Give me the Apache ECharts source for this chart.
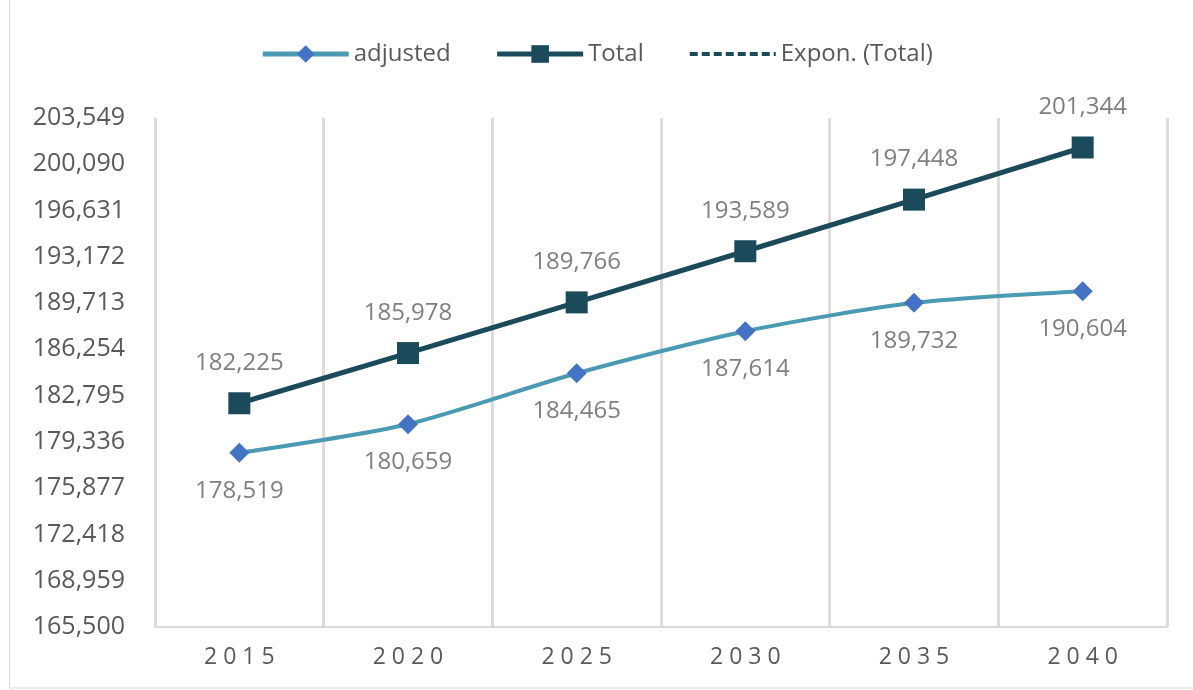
<!DOCTYPE html>
<html>
<head>
<meta charset="utf-8">
<script src="https://cdn.jsdelivr.net/npm/echarts@6/dist/echarts.min.js"></script>
<style>
html,body{margin:0;padding:0;background:#fff;}
#chart{width:1193px;height:690px;}
</style>
</head>
<body>
<div id="chart"></div>
<script>
const years = ['2015','2020','2025','2030','2035','2040'];
const adjusted = [178519, 180659, 184465, 187614, 189732, 190604];
const total = [182225, 185978, 189766, 193589, 197448, 201344];
const exponTotal = [182225, 185978, 189766, 193589, 197448, 201344];
const yTicks = [165500, 168959, 172418, 175877, 179336, 182795, 186254, 189713, 193172, 196631, 200090, 203549];

const fmt = v => Math.round(v).toLocaleString('en-US');
const FONT = '"Open Sans", "Noto Sans", sans-serif';

const chart = echarts.init(document.getElementById('chart'));
chart.setOption({
  animation: false,
  backgroundColor: '#ffffff',
  textStyle: { fontFamily: FONT },
  graphic: [{
    type: 'rect',
    shape: { x: 9.5, y: -2, width: 1190, height: 690 },
    style: { fill: 'none', stroke: '#d9d9d9', lineWidth: 1 },
    silent: true
  }],
  legend: {
    top: 37,
    left: 'center',
    itemWidth: 86,
    itemHeight: 22,
    itemGap: 44,
    lineStyle: { width: 'inherit' },
    textStyle: { fontSize: 24, color: '#595959', fontFamily: FONT },
    data: [
      { name: 'adjusted', lineStyle: { width: 5 } },
      { name: 'Total' },
      { name: 'Expon. (Total)', itemStyle: { opacity: 0 } }
    ]
  },
  grid: { left: 155, right: 26, top: 118, bottom: 63, containLabel: false },
  xAxis: {
    type: 'category',
    data: years,
    boundaryGap: true,
    axisLine: { show: true, lineStyle: { color: '#d9d9d9', width: 2 } },
    axisTick: { show: false },
    axisLabel: {
      color: '#595959', fontSize: 23, margin: 19, fontFamily: FONT,
      formatter: v => v.split('').join(' ')
    },
    splitLine: { show: true, interval: 0, lineStyle: { color: '#dcdcdc', width: 3 } }
  },
  yAxis: {
    type: 'value',
    min: yTicks[0],
    max: yTicks[yTicks.length - 1],
    axisLine: { show: false },
    axisTick: { show: false },
    splitLine: { show: false },
    axisLabel: {
      customValues: yTicks,
      color: '#595959', fontSize: 25, margin: 30, fontFamily: FONT,
      formatter: v => fmt(v)
    }
  },
  series: [
    {
      name: 'Expon. (Total)',
      type: 'line',
      data: exponTotal,
      z: 1,
      symbol: 'none',
      lineStyle: { color: '#1b4a5a', width: 4, type: [8, 4] },
      itemStyle: { color: '#1b4a5a' }
    },
    {
      name: 'adjusted',
      type: 'line',
      data: adjusted,
      z: 3,
      smooth: 0.25,
      symbol: 'diamond',
      symbolSize: 20,
      lineStyle: { color: '#4a9ab3', width: 4 },
      itemStyle: { color: '#4472c4' },
      label: {
        show: true, position: 'bottom', distance: 16,
        color: '#7f7f7f', fontSize: 24, fontFamily: FONT,
        formatter: p => fmt(p.value)
      }
    },
    {
      name: 'Total',
      type: 'line',
      data: total,
      z: 4,
      symbol: 'rect',
      symbolSize: 22,
      lineStyle: { color: '#1b4a5a', width: 5 },
      itemStyle: { color: '#1b4a5a' },
      label: {
        show: true, position: 'top', distance: 17,
        color: '#7f7f7f', fontSize: 24, fontFamily: FONT,
        formatter: p => fmt(p.value)
      }
    }
  ]
});
</script>
</body>
</html>
